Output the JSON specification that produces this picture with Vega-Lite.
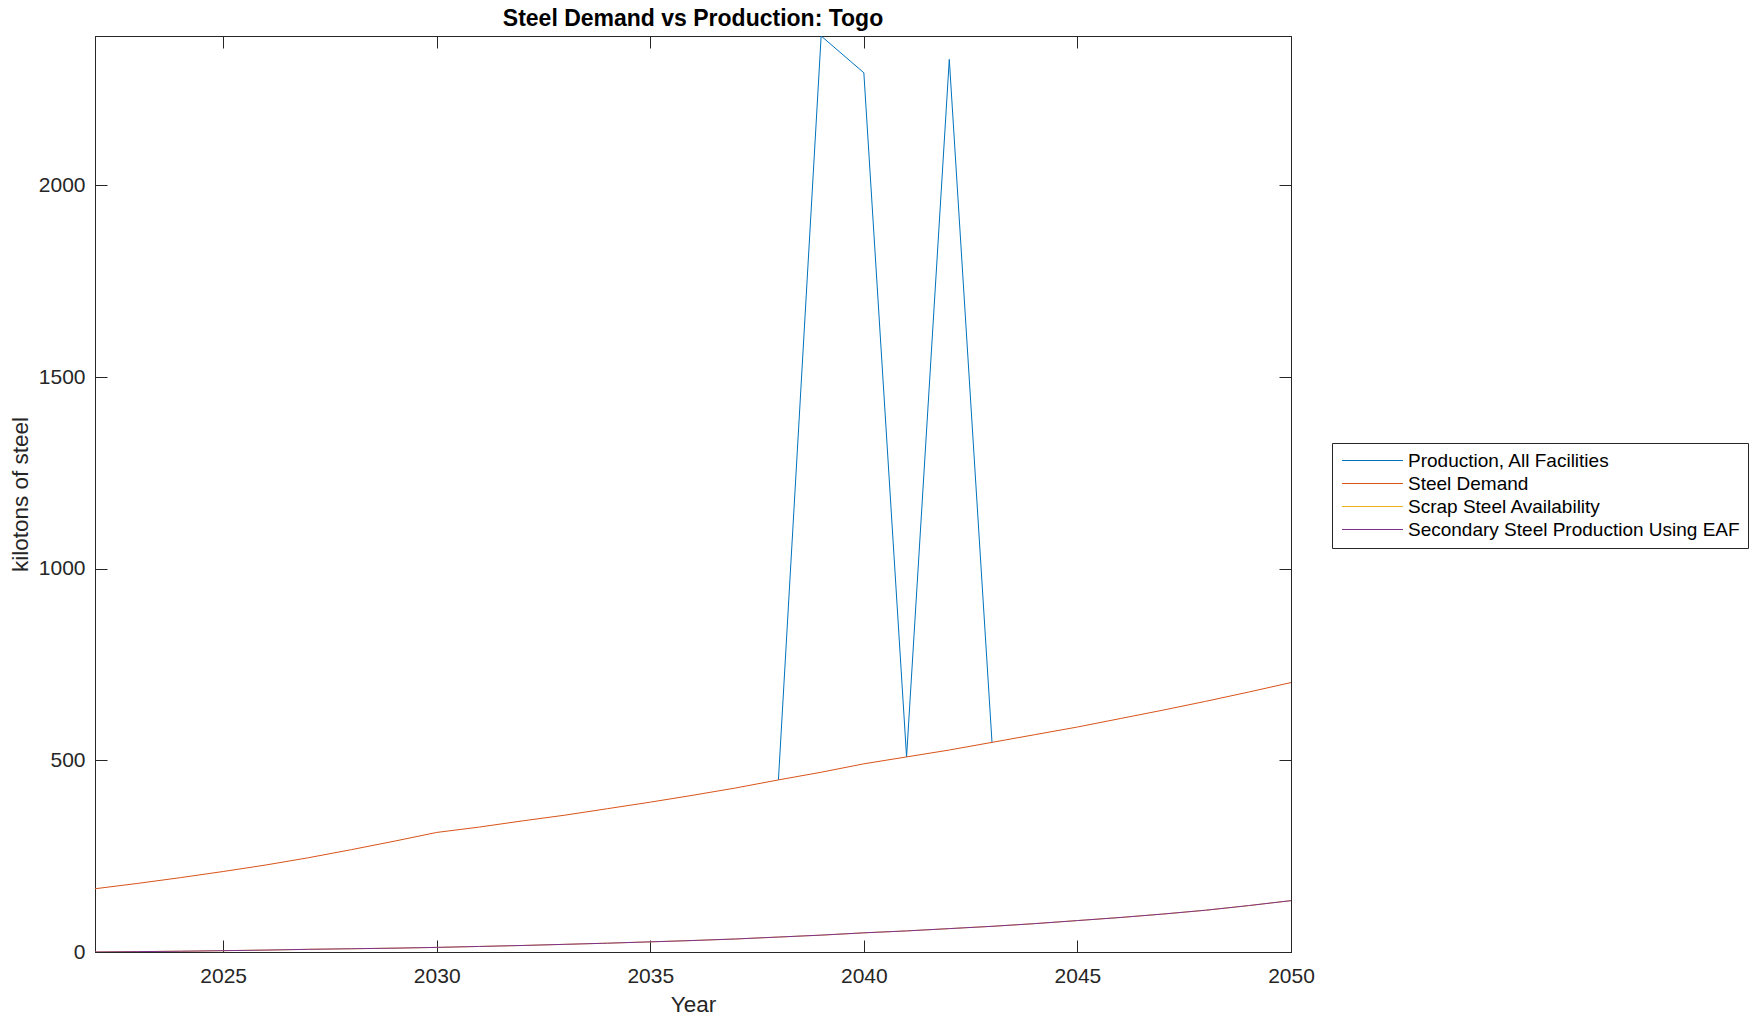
{
  "$schema": "https://vega.github.io/schema/vega-lite/v6.json",
  "width": 1196,
  "height": 916,
  "autosize": {"type": "none"},
  "padding": {"left": 95, "top": 36, "right": 465, "bottom": 69},
  "background": "white",
  "title": {"text": "Steel Demand vs Production: Togo", "fontSize": 23, "fontWeight": "bold", "font": "Liberation Sans", "color": "#000000", "anchor": "middle", "offset": 5},
  "config": {
    "view": {"stroke": "#262626", "strokeWidth": 1},
    "axis": {"domainColor": "#262626", "tickColor": "#262626", "labelColor": "#262626", "titleColor": "#262626", "labelFont": "Liberation Sans", "titleFont": "Liberation Sans", "labelFontSize": 21, "titleFontSize": 22.5, "titleFontWeight": "normal", "grid": false, "tickSize": -12, "labelFlush": false, "labelOverlap": false}
  },
  "data": {"values": [
    {"year": 2038, "series": "Production, All Facilities", "value": 449},
    {"year": 2039, "series": "Production, All Facilities", "value": 2390},
    {"year": 2040, "series": "Production, All Facilities", "value": 2294},
    {"year": 2041, "series": "Production, All Facilities", "value": 509},
    {"year": 2042, "series": "Production, All Facilities", "value": 2329},
    {"year": 2043, "series": "Production, All Facilities", "value": 547},
    {"year": 2022, "series": "Steel Demand", "value": 165},
    {"year": 2023, "series": "Steel Demand", "value": 179},
    {"year": 2024, "series": "Steel Demand", "value": 194},
    {"year": 2025, "series": "Steel Demand", "value": 210},
    {"year": 2026, "series": "Steel Demand", "value": 227},
    {"year": 2027, "series": "Steel Demand", "value": 246},
    {"year": 2028, "series": "Steel Demand", "value": 267},
    {"year": 2029, "series": "Steel Demand", "value": 289},
    {"year": 2030, "series": "Steel Demand", "value": 312},
    {"year": 2031, "series": "Steel Demand", "value": 326},
    {"year": 2032, "series": "Steel Demand", "value": 342},
    {"year": 2033, "series": "Steel Demand", "value": 357},
    {"year": 2034, "series": "Steel Demand", "value": 374},
    {"year": 2035, "series": "Steel Demand", "value": 391},
    {"year": 2036, "series": "Steel Demand", "value": 409},
    {"year": 2037, "series": "Steel Demand", "value": 428},
    {"year": 2038, "series": "Steel Demand", "value": 449},
    {"year": 2039, "series": "Steel Demand", "value": 469},
    {"year": 2040, "series": "Steel Demand", "value": 491},
    {"year": 2041, "series": "Steel Demand", "value": 509},
    {"year": 2042, "series": "Steel Demand", "value": 527},
    {"year": 2043, "series": "Steel Demand", "value": 547},
    {"year": 2044, "series": "Steel Demand", "value": 567},
    {"year": 2045, "series": "Steel Demand", "value": 587},
    {"year": 2046, "series": "Steel Demand", "value": 609},
    {"year": 2047, "series": "Steel Demand", "value": 631},
    {"year": 2048, "series": "Steel Demand", "value": 654},
    {"year": 2049, "series": "Steel Demand", "value": 678},
    {"year": 2050, "series": "Steel Demand", "value": 703},
    {"year": 2022, "series": "Scrap Steel Availability", "value": 0},
    {"year": 2023, "series": "Scrap Steel Availability", "value": 1},
    {"year": 2024, "series": "Scrap Steel Availability", "value": 2},
    {"year": 2025, "series": "Scrap Steel Availability", "value": 3.5},
    {"year": 2026, "series": "Scrap Steel Availability", "value": 5},
    {"year": 2027, "series": "Scrap Steel Availability", "value": 7},
    {"year": 2028, "series": "Scrap Steel Availability", "value": 8.5},
    {"year": 2029, "series": "Scrap Steel Availability", "value": 10},
    {"year": 2030, "series": "Scrap Steel Availability", "value": 12},
    {"year": 2031, "series": "Scrap Steel Availability", "value": 14.5},
    {"year": 2032, "series": "Scrap Steel Availability", "value": 17},
    {"year": 2033, "series": "Scrap Steel Availability", "value": 20},
    {"year": 2034, "series": "Scrap Steel Availability", "value": 23},
    {"year": 2035, "series": "Scrap Steel Availability", "value": 26.5},
    {"year": 2036, "series": "Scrap Steel Availability", "value": 30},
    {"year": 2037, "series": "Scrap Steel Availability", "value": 34},
    {"year": 2038, "series": "Scrap Steel Availability", "value": 39},
    {"year": 2039, "series": "Scrap Steel Availability", "value": 44},
    {"year": 2040, "series": "Scrap Steel Availability", "value": 50},
    {"year": 2041, "series": "Scrap Steel Availability", "value": 55},
    {"year": 2042, "series": "Scrap Steel Availability", "value": 61},
    {"year": 2043, "series": "Scrap Steel Availability", "value": 67},
    {"year": 2044, "series": "Scrap Steel Availability", "value": 74},
    {"year": 2045, "series": "Scrap Steel Availability", "value": 82},
    {"year": 2046, "series": "Scrap Steel Availability", "value": 90},
    {"year": 2047, "series": "Scrap Steel Availability", "value": 99},
    {"year": 2048, "series": "Scrap Steel Availability", "value": 109},
    {"year": 2049, "series": "Scrap Steel Availability", "value": 121},
    {"year": 2050, "series": "Scrap Steel Availability", "value": 134},
    {"year": 2022, "series": "Secondary Steel Production Using EAF", "value": 0},
    {"year": 2023, "series": "Secondary Steel Production Using EAF", "value": 1},
    {"year": 2024, "series": "Secondary Steel Production Using EAF", "value": 2},
    {"year": 2025, "series": "Secondary Steel Production Using EAF", "value": 3.5},
    {"year": 2026, "series": "Secondary Steel Production Using EAF", "value": 5},
    {"year": 2027, "series": "Secondary Steel Production Using EAF", "value": 7},
    {"year": 2028, "series": "Secondary Steel Production Using EAF", "value": 8.5},
    {"year": 2029, "series": "Secondary Steel Production Using EAF", "value": 10},
    {"year": 2030, "series": "Secondary Steel Production Using EAF", "value": 12},
    {"year": 2031, "series": "Secondary Steel Production Using EAF", "value": 14.5},
    {"year": 2032, "series": "Secondary Steel Production Using EAF", "value": 17},
    {"year": 2033, "series": "Secondary Steel Production Using EAF", "value": 20},
    {"year": 2034, "series": "Secondary Steel Production Using EAF", "value": 23},
    {"year": 2035, "series": "Secondary Steel Production Using EAF", "value": 26.5},
    {"year": 2036, "series": "Secondary Steel Production Using EAF", "value": 30},
    {"year": 2037, "series": "Secondary Steel Production Using EAF", "value": 34},
    {"year": 2038, "series": "Secondary Steel Production Using EAF", "value": 39},
    {"year": 2039, "series": "Secondary Steel Production Using EAF", "value": 44},
    {"year": 2040, "series": "Secondary Steel Production Using EAF", "value": 50},
    {"year": 2041, "series": "Secondary Steel Production Using EAF", "value": 55},
    {"year": 2042, "series": "Secondary Steel Production Using EAF", "value": 61},
    {"year": 2043, "series": "Secondary Steel Production Using EAF", "value": 67},
    {"year": 2044, "series": "Secondary Steel Production Using EAF", "value": 74},
    {"year": 2045, "series": "Secondary Steel Production Using EAF", "value": 82},
    {"year": 2046, "series": "Secondary Steel Production Using EAF", "value": 90},
    {"year": 2047, "series": "Secondary Steel Production Using EAF", "value": 99},
    {"year": 2048, "series": "Secondary Steel Production Using EAF", "value": 109},
    {"year": 2049, "series": "Secondary Steel Production Using EAF", "value": 121},
    {"year": 2050, "series": "Secondary Steel Production Using EAF", "value": 134}
  ]},
  "resolve": {"axis": {"x": "independent", "y": "independent"}},
  "layer": [
    {
      "transform": [{"filter": "datum.series === 'Production, All Facilities'"}],
      "mark": {"type": "line", "strokeWidth": 1, "clip": true},
      "encoding": {
        "x": {"field": "year", "type": "quantitative", "scale": {"domain": [2022, 2050], "nice": false, "zero": false},
          "axis": {"orient": "bottom", "values": [2025, 2030, 2035, 2040, 2045, 2050], "format": "d", "labelPadding": 25, "title": "Year", "titleX": 598, "titleY": 52, "titleBaseline": "middle", "titleAlign": "center"}},
        "y": {"field": "value", "type": "quantitative", "scale": {"domain": [0, 2390], "nice": false},
          "axis": {"orient": "left", "values": [0, 500, 1000, 1500, 2000], "format": "d", "labelPadding": 22, "title": "kilotons of steel", "titleAngle": -90, "titleX": -75, "titleY": 458, "titleBaseline": "middle", "titleAlign": "center"}},
        "color": {"field": "series", "type": "nominal",
          "scale": {"domain": ["Production, All Facilities", "Steel Demand", "Scrap Steel Availability", "Secondary Steel Production Using EAF"], "range": ["#0072BD", "#D95319", "#EDB120", "#7E2F8E"]},
          "legend": {"title": null, "orient": "none", "legendX": 1237, "legendY": 407, "symbolType": "M-4,0H4", "symbolSize": 232, "symbolStrokeWidth": 1, "symbolOffset": 23, "labelOffset": 26, "labelFont": "Liberation Sans", "labelFontSize": 19, "labelColor": "#000000", "strokeColor": "#262626", "fillColor": "white", "padding": 8, "rowPadding": 3, "labelLimit": 420}}
      }
    },
    {
      "transform": [{"filter": "datum.series === 'Steel Demand'"}],
      "mark": {"type": "line", "strokeWidth": 1, "clip": true},
      "encoding": {
        "x": {"field": "year", "type": "quantitative", "axis": null},
        "y": {"field": "value", "type": "quantitative", "axis": null},
        "color": {"field": "series", "type": "nominal"}
      }
    },
    {
      "transform": [{"filter": "datum.series === 'Scrap Steel Availability'"}],
      "mark": {"type": "line", "strokeWidth": 1, "clip": true},
      "encoding": {
        "x": {"field": "year", "type": "quantitative", "axis": null},
        "y": {"field": "value", "type": "quantitative", "axis": null},
        "color": {"field": "series", "type": "nominal"}
      }
    },
    {
      "transform": [{"filter": "datum.series === 'Secondary Steel Production Using EAF'"}],
      "mark": {"type": "line", "strokeWidth": 1, "clip": true},
      "encoding": {
        "x": {"field": "year", "type": "quantitative",
          "axis": {"orient": "top", "values": [2025, 2030, 2035, 2040, 2045, 2050], "labels": false, "title": null}},
        "y": {"field": "value", "type": "quantitative",
          "axis": {"orient": "right", "values": [0, 500, 1000, 1500, 2000], "labels": false, "title": null}},
        "color": {"field": "series", "type": "nominal"}
      }
    }
  ]
}
